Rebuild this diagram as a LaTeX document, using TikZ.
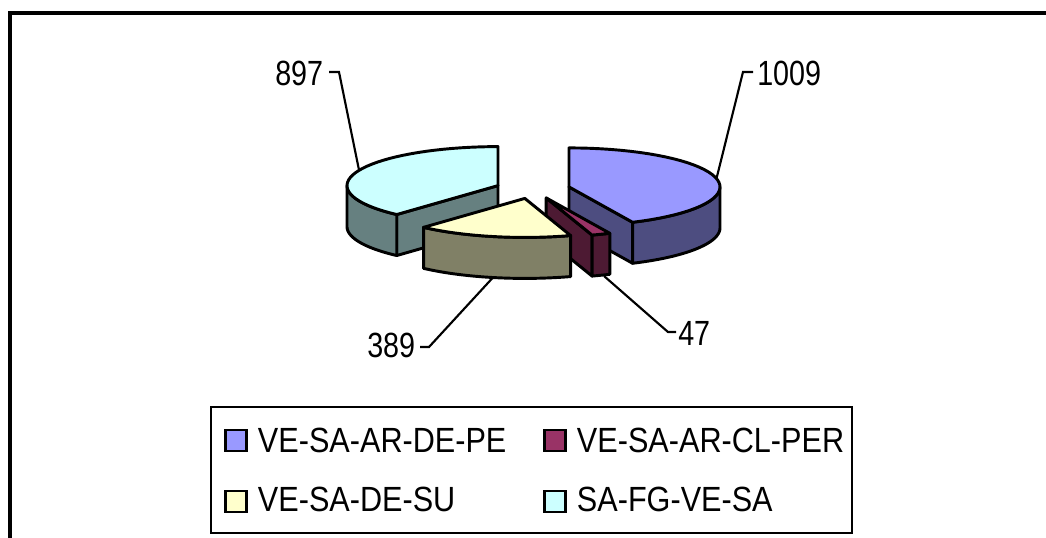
\documentclass[tikz,border=0pt]{standalone}
\usepackage{fontspec}
\newfontfamily\legfont[FakeStretch=0.875]{Liberation Sans}
\newfontfamily\numfont[FakeStretch=0.82]{Liberation Sans}
\definecolor{bluetop}{HTML}{9999FF}
\definecolor{blueside}{HTML}{4D4D80}
\definecolor{martop}{HTML}{993366}
\definecolor{marside}{HTML}{4D1A33}
\definecolor{yeltop}{HTML}{FFFFCC}
\definecolor{yelside}{HTML}{808066}
\definecolor{cyantop}{HTML}{CCFFFF}
\definecolor{cyanside}{HTML}{668080}
\def\pieRX{151}
\def\pieRY{39}
\def\pieH{41}
\newcommand\pietop[5]{%
  \filldraw[pieline, fill=#5] ({#1},{#2}) -- plot[domain=#3:#4, samples=40] ({#1+\pieRX*sin(\x)},{#2-\pieRY*cos(\x)}) -- cycle;}
\newcommand\pieside[5]{%
  \filldraw[pieline, fill=#5] plot[domain=#3:#4, samples=30] ({#1+\pieRX*sin(\x)},{#2-\pieRY*cos(\x)}) -- plot[domain=#4:#3, samples=30] ({#1+\pieRX*sin(\x)},{#2+\pieH-\pieRY*cos(\x)}) -- cycle;}
\newcommand\piecut[4]{%
  \filldraw[pieline, fill=#4] ({#1},{#2}) -- ({#1+\pieRX*sin(#3)},{#2-\pieRY*cos(#3)}) -- ({#1+\pieRX*sin(#3)},{#2+\pieH-\pieRY*cos(#3)}) -- ({#1},{#2+\pieH}) -- cycle;}
\tikzset{
  pieline/.style={draw=black, line width=2.2pt, line join=round},
  leader/.style={draw=black, line width=1.6pt},
  numlabel/.style={anchor=base west, inner sep=0pt, font=\numfont\fontsize{26.25pt}{30pt}\selectfont},
  leglabel/.style={anchor=base west, inner sep=0pt, font=\legfont\fontsize{26.25pt}{30pt}\selectfont},
  legkey/.style={draw=black, line width=1.8pt, minimum width=15.75pt, minimum height=15.75pt, inner sep=0pt},
}
\begin{document}
\begin{tikzpicture}[x=0.75pt, y=-0.75pt]
\useasboundingbox (0,0) rectangle (1046,537);
\clip (0,0) rectangle (1046,537);
\fill[white] (0,0) rectangle (1046,537);
% outer frame
\draw[line width=2.8pt] (10,13) rectangle (1070,560);
% cyan slice (SA-FG-VE-SA)
\piecut{498.0}{185.6}{222.118}{cyanside}
\pieside{498.0}{185.6}{222.118}{270}{cyanside}
\pietop{498.0}{185.6}{222.118}{360}{cyantop}
% blue slice (VE-SA-AR-DE-PE)
\piecut{569.0}{186.9}{155.098}{blueside}
\pieside{569.0}{186.9}{90}{155.098}{blueside}
\pietop{569.0}{186.9}{0}{155.098}{bluetop}
% maroon slice (VE-SA-AR-CL-PER)
\piecut{546.2}{197.9}{162.323}{marside}
\pieside{546.2}{197.9}{155.098}{162.323}{marside}
\pietop{546.2}{197.9}{155.098}{162.323}{martop}
% yellow slice (VE-SA-DE-SU)
\pieside{524.8}{198.4}{162.323}{222.118}{yelside}
\pietop{524.8}{198.4}{162.323}{222.118}{yeltop}
% data labels
\node[numlabel] (n897) at (275,85) {897};
\node[numlabel] (n1009) at (757,85) {1009};
\node[numlabel] (n389) at (367,357) {389};
\node[numlabel] (n47) at (678,345) {47};
\coordinate (a1) at (329,72); \coordinate (b1) at (339,72); \coordinate (c1) at (359,170);
\coordinate (a2) at (753,72); \coordinate (b2) at (743,72); \coordinate (c2) at (716.5,178.5);
\coordinate (a3) at (420,347); \coordinate (b3) at (429,347); \coordinate (c3) at (492.5,278);
\coordinate (a4) at (676,332); \coordinate (b4) at (668,332); \coordinate (c4) at (604,276);
\draw[leader] (a1) -- (b1) -- (c1);
\draw[leader] (a2) -- (b2) -- (c2);
\draw[leader] (a3) -- (b3) -- (c3);
\draw[leader] (a4) -- (b4) -- (c4);
% legend
\node[draw=black, line width=2pt, minimum width=480.75pt, minimum height=94.5pt, inner sep=0pt] (legend) at (531.5,470) {};
\node[legkey, fill=bluetop] (k1) at (236,440.5) {};
\node[legkey, fill=martop] (k2) at (555,440.5) {};
\node[legkey, fill=yeltop] (k3) at (236,501.5) {};
\node[legkey, fill=cyantop] (k4) at (555,501.5) {};
\node[leglabel] (t1) at (257.7,452.7) {VE-SA-AR-DE-PE};
\node[leglabel] (t2) at (576.7,452.7) {VE-SA-AR-CL-PER};
\node[leglabel] (t3) at (257.7,511.7) {VE-SA-DE-SU};
\node[leglabel] (t4) at (576.7,511.7) {SA-FG-VE-SA};
\end{tikzpicture}
\end{document}
